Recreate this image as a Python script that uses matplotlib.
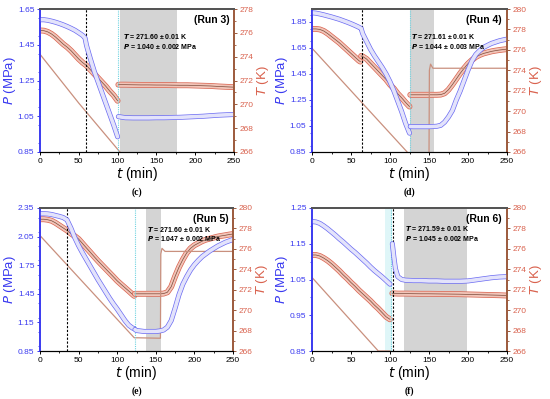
import matplotlib
matplotlib.use("Agg")
import matplotlib.pyplot as plt
import matplotlib.patheffects as pe
from matplotlib.ticker import MultipleLocator

plt.rcParams['font.family'] = ['Liberation Sans', 'DejaVu Sans']

# ---------------- data ----------------
# (c) Run 3
c_p1_t = [0, 5, 10, 15, 20, 25, 30, 35, 40, 45, 50, 55, 58, 60, 65, 70, 75, 80, 85, 90, 95, 100]
c_p1 = [1.590, 1.590, 1.587, 1.582, 1.576, 1.569, 1.561, 1.552, 1.542, 1.531, 1.517, 1.502, 1.488,
        1.445, 1.37, 1.30, 1.24, 1.18, 1.12, 1.06, 1.00, 0.935]
c_p2_t = [101, 110, 120, 130, 140, 150, 160, 170, 180, 190, 200, 210, 220, 230, 240, 250]
c_p2 = [1.048, 1.042, 1.041, 1.041, 1.041, 1.042, 1.042, 1.043, 1.044, 1.046, 1.048, 1.050,
        1.053, 1.056, 1.058, 1.060]
c_T1_t = [0, 5, 10, 15, 20, 25, 30, 35, 40, 45, 50, 55, 60, 65, 70, 75, 80, 85, 90, 95, 100]
c_T1 = [276.2, 276.18, 276.08, 275.9, 275.65, 275.35, 275.05, 274.8, 274.5, 274.15, 273.8, 273.5,
        273.25, 272.9, 272.55, 272.2, 271.85, 271.5, 271.1, 270.75, 270.3]
c_T2_t = c_p2_t
c_T2 = [271.65, 271.65, 271.64, 271.63, 271.63, 271.62, 271.62, 271.61, 271.60, 271.60, 271.58,
        271.56, 271.54, 271.50, 271.47, 271.44]
c_bath_t = [0, 50, 103]
c_bath = [274.2, 270.1, 266.0]

# (d) Run 4
d_p1_t = [0, 5, 10, 15, 20, 25, 30, 35, 40, 45, 50, 55, 60, 63, 65, 70, 75, 80, 85, 90, 95, 100,
          105, 110, 115, 120, 125]
d_p1 = [1.921, 1.918, 1.912, 1.905, 1.897, 1.889, 1.880, 1.871, 1.860, 1.849, 1.837, 1.824, 1.810,
        1.800, 1.76, 1.70, 1.64, 1.59, 1.545, 1.50, 1.45, 1.39, 1.32, 1.24, 1.16, 1.07, 0.995]
d_p2_t = [126, 130, 135, 140, 145, 150, 155, 160, 165, 170, 175, 180, 185, 190, 195, 200, 205, 210,
          215, 220, 225, 230, 235, 240, 245, 250]
d_p2 = [1.046, 1.045, 1.045, 1.045, 1.045, 1.045, 1.046, 1.048, 1.055, 1.08, 1.12, 1.17, 1.25, 1.32,
        1.40, 1.48, 1.55, 1.60, 1.63, 1.655, 1.67, 1.685, 1.695, 1.705, 1.712, 1.718]
d_T1_t = [0, 5, 10, 15, 20, 25, 30, 35, 40, 45, 50, 55, 60, 62]
d_T1 = [278.05, 278.05, 278.0, 277.85, 277.6, 277.3, 277.0, 276.7, 276.35, 276.0, 275.65, 275.3,
        274.95, 274.85]
d_T2_t = [63, 65, 70, 75, 80, 85, 90, 95, 100, 105, 110, 115, 120, 125]
d_T2 = [275.4, 275.35, 275.1, 274.7, 274.3, 273.9, 273.5, 273.1, 272.6, 272.2, 271.7, 271.3,
        270.85, 270.45]
d_T3_t = d_p2_t
d_T3 = [271.6, 271.6, 271.6, 271.6, 271.6, 271.6, 271.6, 271.6, 271.62, 271.75, 272.1, 272.6,
        273.15, 273.7, 274.2, 274.65, 275.0, 275.3, 275.5, 275.65, 275.75, 275.85, 275.92, 275.98,
        276.03, 276.07]
d_bath_t = [0, 122, 124, 150, 150.5, 152, 155, 250]
d_bath = [276.16, 266.0, 265.5, 265.5, 274.0, 274.6, 274.2, 274.2]

# (e) Run 5
e_p1_t = [0, 5, 10, 15, 20, 25, 30, 35, 40, 45, 50, 55, 60, 65, 70, 75, 80, 85, 90, 95, 100, 105,
          110, 115, 120, 122]
e_p1 = [2.290, 2.290, 2.288, 2.282, 2.272, 2.262, 2.250, 2.225, 2.14, 2.04, 1.955, 1.88, 1.81,
        1.74, 1.67, 1.60, 1.535, 1.47, 1.405, 1.345, 1.29, 1.23, 1.17, 1.12, 1.09, 1.085]
e_p2_t = [123, 125, 130, 135, 140, 145, 150, 155, 160, 165, 170, 175, 180, 185, 190, 195, 200, 205,
          210, 215, 220, 225, 230, 235, 240, 245, 250]
e_p2 = [1.075, 1.065, 1.06, 1.055, 1.055, 1.055, 1.055, 1.06, 1.07, 1.10, 1.17, 1.30, 1.44, 1.55,
        1.63, 1.70, 1.755, 1.80, 1.84, 1.87, 1.90, 1.925, 1.95, 1.97, 1.99, 2.005, 2.02]
e_T1_t = e_p1_t
e_T1 = [278.9, 278.9, 278.85, 278.75, 278.55, 278.3, 278.05, 277.8, 277.5, 277.25, 276.96, 276.53,
        276.1, 275.68, 275.25, 274.83, 274.44, 274.05, 273.66, 273.27, 272.87, 272.53, 272.2,
        271.87, 271.53, 271.4]
e_T2_t = e_p2_t
e_T2 = [271.6, 271.6, 271.6, 271.6, 271.6, 271.6, 271.6, 271.6, 271.62, 271.75, 272.3, 273.3,
        274.2, 274.95, 275.6, 276.05, 276.35, 276.55, 276.75, 276.9, 277.0, 277.1, 277.2, 277.27,
        277.33, 277.4, 277.45]
e_bath_t = [0, 122, 156, 156.5, 158, 162, 250]
e_bath = [277.3, 267.3, 267.25, 275.5, 276.05, 275.75, 275.75]

# (f) Run 6
f_p1_t = [0, 5, 10, 15, 20, 25, 30, 35, 40, 45, 50, 55, 60, 65, 70, 75, 80, 85, 90, 95, 100]
f_p1 = [1.212, 1.211, 1.207, 1.200, 1.192, 1.183, 1.174, 1.164, 1.155, 1.145, 1.135, 1.126, 1.116,
        1.106, 1.096, 1.085, 1.075, 1.066, 1.057, 1.047, 1.037]
f_p2_t = [103, 105, 107, 110, 115, 120, 130, 140, 150, 160, 170, 180, 190, 200, 210, 220, 230,
          240, 250]
f_p2 = [1.150, 1.112, 1.080, 1.058, 1.050, 1.048, 1.047, 1.047, 1.046, 1.046, 1.045, 1.045, 1.045,
        1.046, 1.049, 1.052, 1.055, 1.057, 1.058]
f_T1_t = f_p1_t
f_T1 = [275.4, 275.4, 275.3, 275.1, 274.85, 274.55, 274.2, 273.85, 273.45, 273.1, 272.7, 272.35,
        271.95, 271.6, 271.25, 270.9, 270.5, 270.15, 269.75, 269.35, 269.1]
f_T2_t = [103, 110, 120, 130, 140, 150, 160, 170, 180, 190, 200, 210, 220, 230, 240, 250]
f_T2 = [271.65, 271.62, 271.62, 271.61, 271.60, 271.60, 271.59, 271.58, 271.57, 271.56, 271.54,
        271.52, 271.50, 271.48, 271.46, 271.43]
f_bath_t = [0, 85, 100]
f_bath = [273.2, 266.0, 266.0]

# annotation strings per run
run_names = ['(Run 3)', '(Run 4)', '(Run 5)', '(Run 6)']
T_eq = ['271.60', '271.61', '271.60', '271.59']
P_eq = ['1.040', '1.044', '1.047', '1.045']
P_err = ['0.002', '0.003', '0.002', '0.002']

# ---------------- drawing ----------------
BLUE = '#3a3af0'
BLUE_PT = '#6a6af2'
RED = '#d9624e'
BROWN = '#9c5a3c'
BATH = '#c9907e'

fig = plt.figure(figsize=(5.5, 3.99), dpi=100)


def tube(ax, t, y, edge, fill, w):
    ax.plot(t, y, color=fill, lw=w - 1.0, solid_capstyle='round',
            path_effects=[pe.Stroke(linewidth=w, foreground=edge), pe.Normal()])


def panel(rect, pmin, pmax, pstep, tmax, press, temps, bath, gray, cyan, dash,
          cyan_band, k, txt_x, txt_y, letter):
    ax = fig.add_axes(rect)
    ax2 = ax.twinx()
    ax.set_zorder(ax2.get_zorder() + 1)
    ax.patch.set_visible(False)

    ax2.axvspan(gray[0], gray[1], color='#d4d4d4', lw=0, zorder=0)
    if cyan_band:
        ax2.axvspan(cyan_band[0], cyan_band[1], color='#dff6f8', lw=0, zorder=0)
    ax.axvline(dash, color='black', ls=(0, (2, 1.5)), lw=0.8, zorder=1)
    ax.axvline(cyan, color='#6fd3e0', ls=(0, (1, 1)), lw=0.8, zorder=1)

    for t, y in temps:
        tube(ax2, t, y, RED, '#f1c4b8', 4.2)
        ax2.plot(t, y, color='#7a4a3a', lw=0.5)
    ax2.plot(bath[0], bath[1], color=BATH, lw=0.9)
    for t, y in press:
        tube(ax, t, y, BLUE_PT, '#e3e3fb', 3.6)

    ax.set_xlim(0, 250)
    ax.set_ylim(pmin, pmax)
    ax2.set_ylim(266, tmax)
    ax.xaxis.set_major_locator(MultipleLocator(50))
    ax.xaxis.set_minor_locator(MultipleLocator(25))
    n = int((pmax - pmin) / pstep + 1e-6)
    ax.set_yticks([round(pmin + i * pstep, 2) for i in range(n + 1)])
    ax.yaxis.set_minor_locator(MultipleLocator(pstep / 2))
    ax2.yaxis.set_major_locator(MultipleLocator(2))
    ax2.yaxis.set_minor_locator(MultipleLocator(1))
    ax.tick_params(axis='both', which='major', labelsize=6, length=2.5, width=0.7, pad=1.5)
    ax.tick_params(axis='both', which='minor', length=1.5, width=0.6)
    ax.tick_params(axis='y', which='both', colors=BLUE, labelcolor=BLUE)
    ax2.tick_params(axis='y', which='major', labelsize=6, length=2.5, width=0.7, pad=1.5,
                    colors=BROWN, labelcolor=RED)
    ax2.tick_params(axis='y', which='minor', length=1.5, width=0.6, colors=BROWN)

    for a in (ax, ax2):
        a.spines['left'].set_color(BLUE)
        a.spines['left'].set_linewidth(1.2)
        a.spines['right'].set_color(BROWN)
        a.spines['right'].set_linewidth(1.2)
        a.spines['top'].set_color('#555555')
        a.spines['top'].set_linewidth(1.4)
        a.spines['bottom'].set_linewidth(0.8)

    ax.set_xlabel('$\\it{t}$ (min)', fontsize=10, labelpad=0)
    ax.set_ylabel('$\\it{P}$ (MPa)', fontsize=9.5, color=BLUE, labelpad=0)
    ax2.set_ylabel('$\\it{T}$ (K)', fontsize=9.5, color=RED, labelpad=1)

    ax.text(0.975, 0.955, run_names[k], transform=ax.transAxes, ha='right', va='top',
            fontsize=7.5, fontweight='bold')
    ax.text(txt_x, txt_y[0], '$\\mathbfit{T}$ = ' + T_eq[k] + ' ± 0.01 K',
            transform=ax.get_xaxis_transform(), fontsize=5, fontweight='bold', va='center')
    ax.text(txt_x, txt_y[1], '$\\mathbfit{P}$ = ' + P_eq[k] + ' ± ' + P_err[k] + ' MPa',
            transform=ax.get_xaxis_transform(), fontsize=5, fontweight='bold', va='center')

    x0 = rect[0] + rect[2] / 2
    fig.text(x0, rect[1] - 40 / 399, letter, ha='center', va='center', fontsize=7,
             family=['Liberation Serif', 'DejaVu Serif'], fontweight='bold')
    return ax


W = 195 / 550
H = 143 / 399

panel([40 / 550, 1 - 152 / 399, 194 / 550, H], 0.85, 1.65, 0.2, 278,
      [(c_p1_t, c_p1), (c_p2_t, c_p2)], [(c_T1_t, c_T1), (c_T2_t, c_T2)],
      (c_bath_t, c_bath), (102.6, 176.5), 100.4, 59, None, 0, 107,
      (0.807, 0.737), '(c)')
panel([312 / 550, 1 - 152 / 399, W, H], 0.85, 1.95, 0.2, 280,
      [(d_p1_t, d_p1), (d_p2_t, d_p2)],
      [(d_T1_t, d_T1), (d_T2_t, d_T2), (d_T3_t, d_T3)],
      (d_bath_t, d_bath), (126, 157), 125, 64.5, None, 1, 127,
      (0.807, 0.737), '(d)')
panel([40 / 550, 1 - 351 / 399, 193 / 550, H], 0.85, 2.35, 0.3, 280,
      [(e_p1_t, e_p1), (e_p2_t, e_p2)], [(e_T1_t, e_T1), (e_T2_t, e_T2)],
      (e_bath_t, e_bath), (137, 157), 123, 35, None, 2, 138,
      (0.85, 0.79), '(e)')
panel([312 / 550, 1 - 351 / 399, W, H], 0.85, 1.25, 0.1, 280,
      [(f_p1_t, f_p1), (f_p2_t, f_p2)], [(f_T1_t, f_T1), (f_T2_t, f_T2)],
      (f_bath_t, f_bath), (118, 198.5), 101.5, 103.5, (94, 102), 3, 119,
      (0.86, 0.79), '(f)')

fig.savefig('out.png', dpi=100)
